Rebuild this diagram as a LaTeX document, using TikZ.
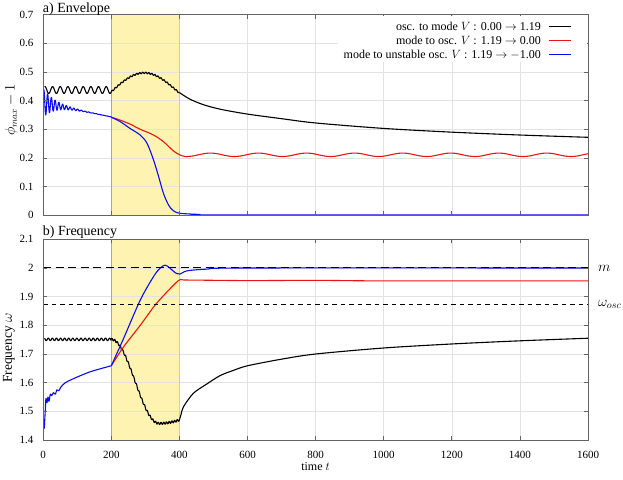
\documentclass[tikz,border=0pt]{standalone}
\usepackage{fontspec}
\setmainfont{Liberation Serif}

\definecolor{band}{RGB}{255,243,178}
\definecolor{bandedge}{RGB}{214,204,150}
\definecolor{gridgray}{RGB}{226,226,226}
\definecolor{axisgray}{RGB}{100,100,100}
\definecolor{oscred}{RGB}{235,20,20}
\definecolor{modeblue}{RGB}{10,10,245}

\begin{document}
\begin{tikzpicture}[x=1pt, y=1pt,
    every node/.style={inner sep=0pt, font=\fontsize{12}{14}\selectfont},
    curve/.style={line width=1.1pt, line join=round},
    gridline/.style={gridgray, line width=0.6pt},
    axisline/.style={axisgray, line width=0.8pt},
    ticklabel/.style={font=\fontsize{11}{12}\selectfont},
    title/.style={font=\fontsize{14}{16}\selectfont, anchor=base west},
    axislabel/.style={font=\fontsize{13.5}{16}\selectfont, rotate=90},
    linelabel/.style={font=\fontsize{14.5}{16}\selectfont, anchor=west, xshift=10pt}]
\useasboundingbox (0,0) rectangle (623,479);

% a) Envelope
\begin{scope}[shift={(43.2pt,263.7pt)}, x=0.3405pt, y=286.7pt]
  \fill[band] (200,0) rectangle (400,0.7);
  \foreach \v in {1,...,6}
    \draw[gridline] (0,\v/10) -- (1600,\v/10);
  \foreach \t in {600,800,...,1400}
    \draw[gridline] (\t,0) -- (\t,0.7);
  \draw[gray!70, line width=0.7pt] (200,0) -- (200,0.7);
  \draw[bandedge, line width=0.7pt] (400,0) -- (400,0.7);
  \begin{scope}
    \clip (0,0) rectangle (1600,0.7);
    % osc. to mode
    \draw[curve] plot[domain=4:200, samples=200] (\x,{0.437+0.012*cos(16*(\x-5))});
    \draw[curve] plot[domain=200:400, samples=240] (\x,{0.431+0.063*sin(0.9474*(\x-200))+0.00003*(\x-200)+0.0025*sin(40*(\x-200))});
    \draw[curve] plot[smooth] coordinates {(400,0.428) (431,0.405) (470,0.386) (520,0.37) (600,0.353) (700,0.337) (800,0.322) (1000,0.303) (1200,0.29) (1400,0.28) (1600,0.272)};
    % mode to osc.
    \draw[curve, oscred] plot[smooth] coordinates {(200,0.342) (226,0.332) (255,0.318) (285,0.30) (324,0.28) (353,0.257) (382,0.225) (402,0.21) (422,0.204)};
    \draw[curve, oscred] plot[domain=422:1600, samples=240] (\x,{0.211+0.006*cos(2.55*(\x-491))});
    % mode to unstable osc.
    \draw[curve, modeblue] plot[domain=2:200, samples=400] (\x,{0.392-0.00025*\x+0.05*exp(-\x/35)*cos(32.7*(\x-2))});
    \draw[curve, modeblue] plot[smooth] coordinates {(200,0.342) (226,0.327) (255,0.303) (285,0.28) (305,0.251) (324,0.193) (339,0.135) (353,0.077) (368,0.036) (382,0.016) (402,0.007) (460,0.003) (520,0.001) (1600,0.001)};
  \end{scope}
  \draw[axisline] (0,0) rectangle (1600,0.7);
  \foreach \v/\lab in {0/0,1/0.1,2/0.2,3/0.3,4/0.4,5/0.5,6/0.6,7/0.7} {
    \draw[axisline] (0,\v/10) -- ++(4pt,0pt);
    \draw[axisline] (1600,\v/10) -- ++(-4pt,0pt);
    \node[ticklabel, anchor=east, xshift=-9.5pt] (ya\v) at (0,\v/10) {\lab};
  }
  \foreach \t in {200,400,...,1400} {
    \draw[axisline] (\t,0) -- ++(0pt,4pt);
    \draw[axisline] (\t,0.7) -- ++(0pt,-4pt);
  }
\end{scope}

% b) Frequency
\begin{scope}[shift={(43.2pt,-362.4pt)}, x=0.3405pt, y=286.7pt]
  \fill[band] (200,1.4) rectangle (400,2.1);
  \foreach \v in {15,...,20}
    \draw[gridline] (0,\v/10) -- (1600,\v/10);
  \foreach \t in {600,800,...,1400}
    \draw[gridline] (\t,1.4) -- (\t,2.1);
  \draw[gray!70, line width=0.7pt] (200,1.4) -- (200,2.1);
  \draw[bandedge, line width=0.7pt] (400,1.4) -- (400,2.1);
  \begin{scope}
    \clip (0,1.4) rectangle (1600,2.1);
    % osc. to mode
    \draw[curve] plot[domain=4:200, samples=200] (\x,{1.751+0.0045*sin(30*\x)});
    \draw[curve] plot[domain=200:340, samples=140] (\x,{1.458+0.1465*(1+cos(1.2857*(\x-200)))+0.004*sin(45*(\x-200))});
    \draw[curve] plot[domain=340:400, samples=60] (\x,{1.458+0.012*((\x-340)/60)^2+0.004*sin(45*(\x-200))});
    \draw[curve] plot[smooth] coordinates {(400,1.47) (405,1.49) (412,1.516) (441,1.563) (480,1.595) (520,1.625) (559,1.643) (600,1.659) (700,1.682) (800,1.70) (1000,1.721) (1200,1.735) (1400,1.746) (1600,1.755)};
    % mode to osc.
    \draw[curve, oscred] plot[smooth, tension=0.4] coordinates {(200,1.659) (236,1.725) (285,1.80) (333,1.877) (397,1.956) (420,1.958) (600,1.956) (800,1.957) (1000,1.955) (1600,1.955)};
    % mode to unstable osc.
    \draw[curve, modeblue] plot[smooth, tension=0.5] coordinates {(3,1.44) (6,1.50) (8,1.545) (11,1.53) (14,1.55) (17,1.535) (21,1.56) (25,1.555) (30,1.565) (36,1.56) (40,1.575) (46,1.572) (52,1.585) (65,1.60) (89,1.614) (138,1.638) (200,1.659)};
    \draw[curve, modeblue] plot[smooth, tension=0.5] coordinates {(200,1.659) (236,1.754) (285,1.888) (324,1.97) (343,1.999) (358,2.01) (372,2.0) (387,1.984) (402,1.979) (422,1.99) (480,1.996) (600,2.0) (1600,2.0)};
  \end{scope}
  \draw[line width=1pt, dash pattern=on 8pt off 4.5pt] (0,2) -- (1600,2);
  \draw[line width=1pt, dash pattern=on 4.5pt off 4pt] (0,1.873) -- (1600,1.873);
  \draw[axisline] (0,1.4) rectangle (1600,2.1);
  \foreach \v/\lab in {14/1.4,15/1.5,16/1.6,17/1.7,18/1.8,19/1.9,20/2,21/2.1} {
    \draw[axisline] (0,\v/10) -- ++(4pt,0pt);
    \draw[axisline] (1600,\v/10) -- ++(-4pt,0pt);
    \node[ticklabel, anchor=east, xshift=-9.5pt] (yb\v) at (0,\v/10) {\lab};
  }
  \foreach \t in {200,400,...,1400} {
    \draw[axisline] (\t,1.4) -- ++(0pt,4pt);
    \draw[axisline] (\t,2.1) -- ++(0pt,-4pt);
  }
  \foreach \t in {0,200,...,1600}
    \node[ticklabel, yshift=-15pt] (xb\t) at (\t,1.4) {\t};
  \node[yshift=-27pt] (xlabel) at (800,1.4) {time $t$};
  \node[linelabel] (mlabel) at (1600,2) {$m$};
  \node[linelabel] (wosc) at (1600,1.873) {$\omega_{osc}$};
\end{scope}

\node[title] (titleA) at (42.7,466) {a) Envelope};
\node[title] (titleB) at (42.7,243) {b) Frequency};
\node[axislabel] (ylabA) at (11,369) {$\phi_{max}-1$};
\node[axislabel] (ylabB) at (9,131) {Frequency $\omega$};

% legend
\fill[white] (338,417) rectangle (586.5,463);
\node[anchor=east] (legA) at (541,452.5) {osc. to mode $V$ : 0.00 $\rightarrow$ 1.19};
\node[anchor=east] (legB) at (541,438.5) {mode to osc. $V$ : 1.19 $\rightarrow$ 0.00};
\node[anchor=east] (legC) at (541,424.5) {mode to unstable osc. $V$ : 1.19 $\rightarrow$ $-$1.00};
\draw[curve] ([xshift=8pt]legA.east) -- ++(22pt,0pt);
\draw[curve, oscred] ([xshift=8pt]legB.east) -- ++(22pt,0pt);
\draw[curve, modeblue] ([xshift=8pt]legC.east) -- ++(22pt,0pt);
\end{tikzpicture}
\end{document}
